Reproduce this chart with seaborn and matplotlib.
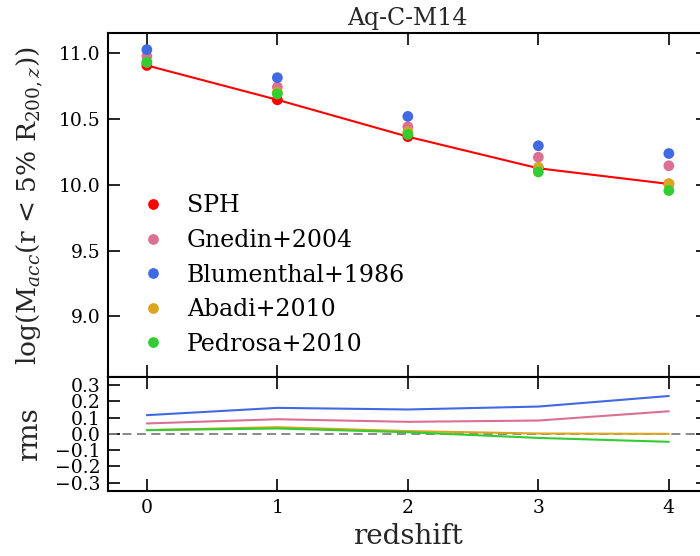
import numpy as np
import pandas as pd
import matplotlib
matplotlib.use("Agg")
import matplotlib.pyplot as plt
import seaborn as sns

# ---- data ----
redshift = [0, 1, 2, 3, 4]
models = ["SPH", "Gnedin+2004", "Blumenthal+1986", "Abadi+2010", "Pedrosa+2010"]
colors = ["red", "palevioletred", "royalblue", "goldenrod", "limegreen"]

sph = [10.906, 10.645, 10.365, 10.125, 10.006]
gnedin = [10.975, 10.742, 10.440, 10.209, 10.144]
blumenthal = [11.026, 10.813, 10.519, 10.296, 10.237]
abadi = [10.930, 10.700, 10.400, 10.133, 10.007]
pedrosa = [10.930, 10.690, 10.382, 10.097, 9.956]

rms_gnedin = [0.064, 0.090, 0.074, 0.082, 0.139]
rms_blumenthal = [0.115, 0.160, 0.150, 0.168, 0.233]
rms_abadi = [0.023, 0.041, 0.017, 0.002, 0.000]
rms_pedrosa = [0.023, 0.033, 0.010, -0.025, -0.049]

top_df = pd.DataFrame({
    "redshift": redshift * 5,
    "mass": sph + gnedin + blumenthal + abadi + pedrosa,
    "model": sum([[m] * 5 for m in models], []),
})
rms_models = models[1:]
rms_df = pd.DataFrame({
    "redshift": redshift * 4,
    "rms": rms_gnedin + rms_blumenthal + rms_abadi + rms_pedrosa,
    "model": sum([[m] * 5 for m in rms_models], []),
})
palette = dict(zip(models, colors))

# ---- style ----
sns.set_style("ticks")
plt.rcParams["font.family"] = ["DejaVu Serif"]
plt.rcParams["mathtext.fontset"] = "dejavuserif"
plt.rcParams["axes.linewidth"] = 1.5
for ax_ in ("xtick", "ytick"):
    plt.rcParams[f"{ax_}.direction"] = "in"
    plt.rcParams[f"{ax_}.major.size"] = 8.5
    plt.rcParams[f"{ax_}.major.width"] = 1.2
    plt.rcParams[f"{ax_}.major.pad"] = 5
    plt.rcParams[f"{ax_}.labelsize"] = 13.5
plt.rcParams["xtick.color"] = "black"
plt.rcParams["ytick.color"] = "black"

W, H = 700, 556
fig = plt.figure(figsize=(W / 100, H / 100), dpi=100)
left, right = 107.7, 708.0
top_t, top_b = 33.3, 377.0
bot_b = 490.7
ax1 = fig.add_axes([left / W, 1 - top_b / H, (right - left) / W, (top_b - top_t) / H])
ax2 = fig.add_axes([left / W, 1 - bot_b / H, (right - left) / W, (bot_b - top_b) / H])

# top panel: SPH line + points
sns.lineplot(x=redshift, y=sph, color="red", lw=1.5, ax=ax1, legend=False)
sns.scatterplot(data=top_df, x="redshift", y="mass", hue="model", palette=palette,
                hue_order=models, s=60, edgecolor="none", ax=ax1, zorder=3)
ax1.set_xlim(-0.3, 4.3)
ax1.set_ylim(8.54, 11.15)
ax1.set_yticks([9.0, 9.5, 10.0, 10.5, 11.0])
ax1.set_xticks(redshift)
ax1.tick_params(labelbottom=False, top=True, right=True)
ax1.set_xlabel("")
ax1.set_ylabel(r"log(M$_{acc}$(r < 5% R$_{200,z}$))", fontsize=19, labelpad=10)
ax1.set_title("Aq-C-M14", fontsize=17, pad=6)
leg = ax1.legend(loc="lower left", frameon=False, fontsize=17, handletextpad=0.45,
                 labelspacing=0.49, borderaxespad=0.5, markerscale=1.0,
                 handlelength=2.0)
for t in leg.get_texts():
    t.set_color("black")

# bottom panel
ax2.axhline(0, color="gray", lw=1.3, ls=(0, (5, 3)), zorder=1)
sns.lineplot(data=rms_df, x="redshift", y="rms", hue="model", palette=palette,
             hue_order=rms_models, lw=1.5, ax=ax2, legend=False, zorder=2)
ax2.set_xlim(-0.3, 4.3)
ax2.set_ylim(-0.35, 0.35)
ax2.set_yticks([-0.3, -0.2, -0.1, 0.0, 0.1, 0.2, 0.3])
ax2.set_xticks(redshift)
ax2.tick_params(top=True, right=True)
ax2.tick_params(axis="x", pad=6)
ax2.set_xlabel("redshift", fontsize=20, labelpad=4)
ax2.set_ylabel("rms", fontsize=20, labelpad=9)

for a in (ax1, ax2):
    for s in a.spines.values():
        s.set_visible(True)
        s.set_color("black")

fig.savefig("out.png", dpi=100)
